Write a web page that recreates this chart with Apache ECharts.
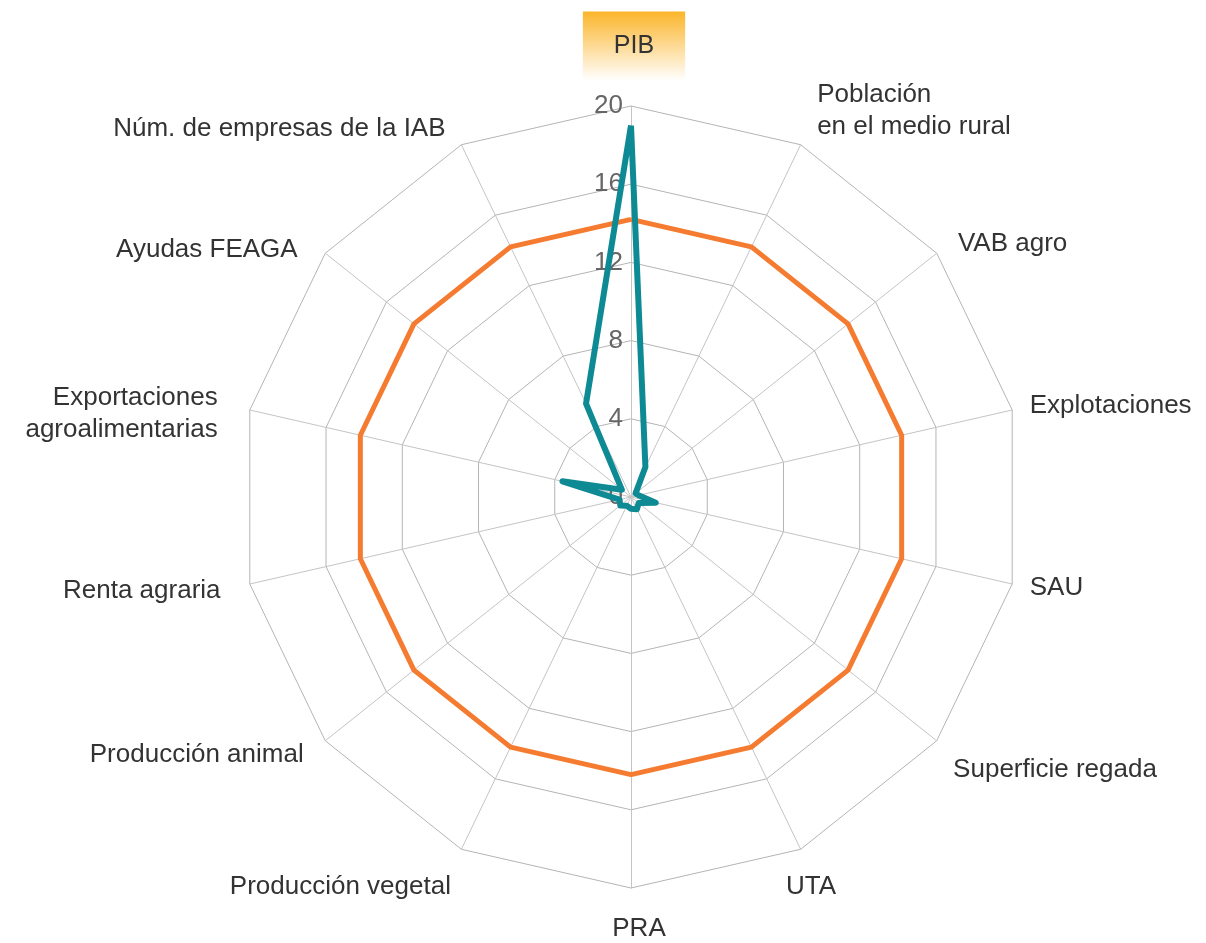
<!DOCTYPE html>
<html lang="es">
<head>
    <meta charset="UTF-8">
    <title>Radar</title>
    <script src="https://cdn.jsdelivr.net/npm/echarts@6/dist/echarts.min.js"></script>
    <style>
        html, body { margin: 0; padding: 0; background: #fff; }
        #main { width: 1206px; height: 943px; }
    </style>
</head>
<body>
<div id="main"></div>
<script>
    // indicadores, en sentido horario desde arriba
    var indicadores = ['PIB', 'Población\nen el medio rural', 'VAB agro', 'Explotaciones', 'SAU',
        'Superficie regada', 'UTA', 'PRA', 'Producción vegetal', 'Producción animal',
        'Renta agraria', 'Exportaciones\nagroalimentarias', 'Ayudas FEAGA', 'Núm. de empresas de la IAB']
    var serieNaranja = [14.2, 14.2, 14.2, 14.2, 14.2, 14.2, 14.2, 14.2, 14.2, 14.2, 14.2, 14.2, 14.2, 14.2]
    var serieAzul = [19.0, 1.7, 0.3, 0.4, 1.3, 0.5, 0.7, 0.6, 0.5, 0.7, 0.6, 3.6, 0.6, 5.3]
    var ejeMax = 20
    var ejeDivisiones = 5

    var fuente = 'Liberation Sans, Arial, sans-serif'

    // colocación de cada etiqueta (mismo orden que indicadores)
    var ajustes = [
        { gap: 46, pad: [0, 0, 0, 6] },
        { gap: 38 },
        { gap: 22, pad: [8, 0, 0, 4] },
        { gap: 18 },
        { gap: 18 },
        { gap: 21, va: 'top' },
        { gap: 24, va: 'top', al: 'center' },
        { gap: 25, pad: [0, 0, 0, 16] },
        { gap: 24, va: 'top', al: 'right', pad: [0, 0, 0, 0] },
        { gap: 20, pad: [4, 6, 0, 0] },
        { gap: 30 },
        { gap: 33, pad: [22, 0, 0, 0] },
        { gap: 20, pad: [19, 12, 0, 0] },
        { gap: 18, pad: [0, 8, 0, 0] }
    ]

    // echarts dibuja el radar en sentido antihorario: se invierte el orden (PIB queda arriba)
    function horario(arr) {
        return [arr[0]].concat(arr.slice(1).reverse())
    }

    var chart = echarts.init(document.getElementById('main'))

    var indicator = horario(indicadores.map(function (n, i) {
        var a = ajustes[i]
        var o = { name: n, min: 0, max: ejeMax, nameGap: a.gap }
        var st = {}
        if (a.va) st.verticalAlign = a.va
        if (a.al) st.align = a.al
        if (a.pad) st.padding = a.pad
        o.nameTextStyle = st
        if (i === 0) {
            o.axisLabel = { show: true }
        }
        return o
    }))

    var option = {
        animation: false,
        radar: {
            center: [631, 497],
            radius: 391,
            startAngle: 90,
            splitNumber: ejeDivisiones,
            shape: 'polygon',
            indicator: indicator,
            nameGap: 18,
            axisName: {
                color: '#333',
                fontFamily: fuente,
                fontSize: 26,
                lineHeight: 32,
                formatter: function (name) {
                    if (name === 'PIB') return '{hl|PIB}'
                    return name
                },
                rich: {
                    hl: {
                        color: '#333',
                        fontSize: 25,
                        fontFamily: fuente,
                        lineHeight: 28,
                        padding: [22, 31, 22, 31],
                        backgroundColor: new echarts.graphic.LinearGradient(0, 0, 0, 1, [
                            { offset: 0, color: '#fbb52a' },
                            { offset: 1, color: 'rgba(255,255,255,1)' }
                        ])
                    }
                }
            },
            axisLabel: {
                show: false,
                color: '#666',
                fontSize: 26,
                fontFamily: fuente,
                margin: 8
            },
            axisLine: {
                lineStyle: { color: '#c4c4c4', width: 1 }
            },
            splitLine: {
                lineStyle: { color: '#b4b4b4', width: 1 }
            },
            splitArea: { show: false }
        },
        series: [{
            type: 'radar',
            symbol: 'none',
            data: [
                {
                    value: horario(serieNaranja),
                    name: 'Referencia',
                    lineStyle: { color: '#f47b30', width: 5 },
                    itemStyle: { color: '#f47b30' }
                },
                {
                    value: horario(serieAzul),
                    name: 'Valor',
                    lineStyle: { color: '#0e8a94', width: 6, join: 'round' },
                    itemStyle: { color: '#0e8a94' }
                }
            ]
        }]
    }

    chart.setOption(option)
</script>
</body>
</html>
